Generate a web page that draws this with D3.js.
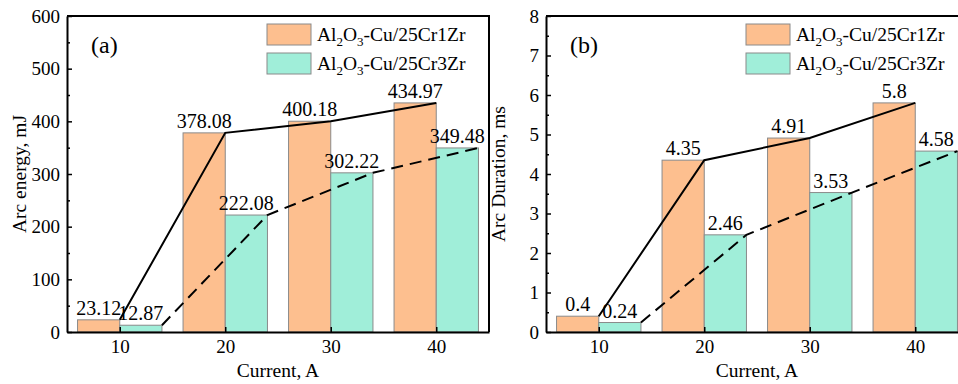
<!DOCTYPE html>
<html>
<head>
<meta charset="utf-8">
<script src="https://cdn.jsdelivr.net/npm/d3@7"></script>
<style>
  html, body { margin: 0; padding: 0; background: #fff; }
  svg { display: block; font-family: "Liberation Serif", "Times New Roman", serif; }
</style>
</head>
<body>
<div id="paper"></div>
<script>
// values
const currents = [10, 20, 30, 40];
const energy1Zr = [23.12, 378.08, 400.18, 434.97];
const energy3Zr = [12.87, 222.08, 302.22, 349.48];
const duration1Zr = [0.4, 4.35, 4.91, 5.8];
const duration3Zr = [0.24, 2.46, 3.53, 4.58];
const energyTicks = [0, 100, 200, 300, 400, 500, 600];
const durationTicks = [0, 1, 2, 3, 4, 5, 6, 7, 8];
const seriesNames = ["Cu/25Cr1Zr", "Cu/25Cr3Zr"];

const W = 958, H = 384;
const orange = "#fdbf8f", teal = "#a0eed9";

const svg = d3.select("#paper").append("svg")
  .attr("width", W).attr("height", H);

let draw_panel = (o) => {
  const x = d3.scaleLinear([5, 45], [o.x0, o.x0 + 422]);
  const y = d3.scaleLinear([0, o.ymax], [332, 16]);
  const g = svg.append("g");

  const rows = currents.map((c, i) => ({c, a: o.a[i], b: o.b[i]}));

  // bars
  g.selectAll("rect.a").data(rows).join("rect")
    .attr("x", d => x(d.c - 4)).attr("width", d => x(d.c) - x(d.c - 4))
    .attr("y", d => y(d.a)).attr("height", d => y(0) - y(d.a))
    .attr("fill", orange).attr("stroke", "#8a8a8a").attr("stroke-width", 1);
  g.selectAll("rect.b").data(rows).join("rect")
    .attr("x", d => x(d.c)).attr("width", d => x(d.c + 4) - x(d.c))
    .attr("y", d => y(d.b)).attr("height", d => y(0) - y(d.b))
    .attr("fill", teal).attr("stroke", "#8a8a8a").attr("stroke-width", 1);

  // value labels
  g.selectAll("text.la").data(rows).join("text")
    .attr("x", d => x(d.c - 2)).attr("y", d => y(d.a) - 5)
    .attr("text-anchor", "middle").attr("font-size", 20)
    .text(d => String(d.a));
  g.selectAll("text.lb").data(rows).join("text")
    .attr("x", d => x(d.c + 2)).attr("y", d => y(d.b) - 5)
    .attr("text-anchor", "middle").attr("font-size", 20)
    .text(d => String(d.b));

  // connecting lines
  g.append("path")
    .attr("d", d3.line().x(d => x(d.c)).y(d => y(d.a))(rows))
    .attr("fill", "none").attr("stroke", "#000").attr("stroke-width", 2);
  g.append("path")
    .attr("d", d3.line().x(d => x(d.c + 4)).y(d => y(d.b))(rows))
    .attr("fill", "none").attr("stroke", "#000").attr("stroke-width", 2)
    .attr("stroke-dasharray", "12,7");

  // axes
  const minor = d3.range(0, o.ticks.length - 1).map(i => (o.ticks[i] + o.ticks[i + 1]) / 2);
  g.append("g").attr("transform", `translate(${o.x0},0)`)
    .call(d3.axisLeft(y).tickValues(minor).tickSize(-3).tickSizeOuter(0).tickFormat(""))
    .call(a => a.select(".domain").remove())
    .selectAll("line").attr("stroke-width", 1.5);
  g.append("g").attr("transform", `translate(${o.x0},0)`)
    .call(d3.axisLeft(y).tickValues(o.ticks).tickSize(-5).tickSizeOuter(0).tickPadding(7))
    .attr("font-family", null).attr("font-size", 19)
    .call(a => a.selectAll("text").attr("fill", "#000"))
    .call(a => a.selectAll("line").attr("stroke-width", 1.5))
    .call(a => a.select(".domain").attr("stroke-width", 2));
  g.append("g").attr("transform", "translate(0,332)")
    .call(d3.axisBottom(x).tickValues(currents).tickSize(-5).tickSizeOuter(0).tickPadding(8))
    .attr("font-family", null).attr("font-size", 19)
    .call(a => a.selectAll("text").attr("fill", "#000"))
    .call(a => a.selectAll("line").attr("stroke-width", 1.5))
    .call(a => a.select(".domain").attr("stroke-width", 2));

  // frame
  g.append("path")
    .attr("d", `M${o.x0},${y(o.ymax)}H${x(45)}V${y(0)}`)
    .attr("fill", "none").attr("stroke", "#000").attr("stroke-width", 2);

  // axis titles
  g.append("text")
    .attr("transform", `translate(${o.x0 - 41},${(y(0) + y(o.ymax)) / 2}) rotate(-90)`)
    .attr("text-anchor", "middle").attr("font-size", 19.5)
    .text(o.ytitle);
  g.append("text")
    .attr("x", x(25)).attr("y", 377)
    .attr("text-anchor", "middle").attr("font-size", 19.5)
    .text("Current, A");

  // panel tag
  g.append("text").attr("x", o.x0 + 24).attr("y", 53)
    .attr("font-size", 24).text(o.tag);

  // legend
  const lg = g.append("g").attr("transform", `translate(${o.x0 + 200},24)`);
  [orange, teal].forEach((col, i) => {
    lg.append("rect").attr("x", 0).attr("y", i * 29).attr("width", 44).attr("height", 21)
      .attr("fill", col).attr("stroke", "#8a8a8a").attr("stroke-width", 1);
    const t = lg.append("text").attr("x", 50).attr("y", i * 29 + 17).attr("font-size", 19.5);
    t.append("tspan").text("Al");
    t.append("tspan").attr("dy", 5).attr("font-size", 13).text("2");
    t.append("tspan").attr("dy", -5).text("O");
    t.append("tspan").attr("dy", 5).attr("font-size", 13).text("3");
    t.append("tspan").attr("dy", -5).text("-" + seriesNames[i]);
  });
};

draw_panel({x0: 67, ymax: 600, ticks: energyTicks, a: energy1Zr, b: energy3Zr,
  ytitle: "Arc energy, mJ", tag: "(a)"});
draw_panel({x0: 546, ymax: 8, ticks: durationTicks, a: duration1Zr, b: duration3Zr,
  ytitle: "Arc Duration, ms", tag: "(b)"});
</script>
</body>
</html>
